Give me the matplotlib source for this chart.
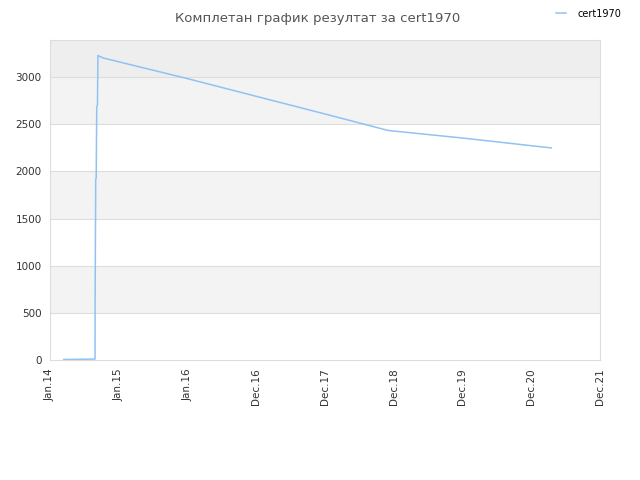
import numpy as np
import matplotlib.pyplot as plt

# x positions are in tick-interval units (tick labels are evenly spaced)
xVals = [0.20, 0.655, 0.656, 0.665, 0.672, 0.680, 0.690, 0.697, 0.77, 2.0, 4.0, 4.92, 6.0, 7.29]
yVals = [5, 10, 600, 1920, 1930, 2690, 2700, 3230, 3205, 2985, 2610, 2435, 2355, 2250]
tickLabels = ['Jan.14', 'Jan.15', 'Jan.16', 'Dec.16', 'Dec.17', 'Dec.18', 'Dec.19', 'Dec.20', 'Dec.21']
seriesName = 'cert1970'

fig = plt.figure(figsize=(6.4, 4.8), dpi=100)
ax = fig.add_axes([50 / 640, 120 / 480, 550 / 640, 320 / 480])

yMax = 3395
bands = [0, 500, 1000, 1500, 2000, 2500, 3000, yMax]
for i in range(len(bands) - 1):
    if i == 6:
        color = '#eeeeee'
    elif i % 2 == 1:
        color = '#f3f3f3'
    else:
        color = '#ffffff'
    ax.axhspan(bands[i], bands[i + 1], color=color, lw=0, zorder=0)
for yv in range(500, 3500, 500):
    ax.axhline(yv, color='#dddddd', lw=0.8, zorder=1)

ax.plot(xVals, yVals, color='#90c2f4', lw=1.1, label=seriesName, zorder=3)

ax.set_xlim(0, 8)
ax.set_ylim(0, yMax)
ax.set_xticks(np.arange(len(tickLabels)))
ax.set_xticklabels(tickLabels, rotation=90)
ax.set_yticks(range(0, 3500, 500))
ax.tick_params(axis='both', labelsize=7.5, colors='#333333', length=0, pad=6)
for s in ax.spines.values():
    s.set_color('#dddddd')

fig.text(0.497, 0.975, 'Комплетан график резултат за cert1970', ha='center', va='top',
         fontsize=9.5, color='#555555')
fig.legend(loc='upper right', bbox_to_anchor=(0.985, 1.0), frameon=False, fontsize=7,
           handlelength=1.0, handletextpad=1.2)

fig.savefig('out.png')
